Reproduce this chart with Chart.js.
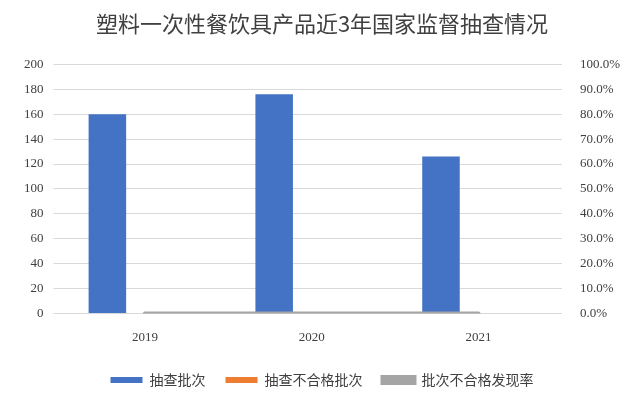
<!DOCTYPE html>
<html>
<head>
<meta charset="utf-8">
<script src="https://cdn.jsdelivr.net/npm/chart.js@4"></script>
<style>
  html, body { margin: 0; padding: 0; background: #fff; }
  #wrap { width: 640px; height: 401px; }
</style>
</head>
<body>
<div id="wrap"><canvas id="c"></canvas></div>
<script>
// ----- Data -----
const years = ['2019', '2020', '2021'];
const sampledBatches = [160, 176, 126];
const failedBatches = [0, 0, 0];
const failRate = [0, 0, 0];

const FONT = '"Noto Sans CJK SC", "DejaVu Sans", sans-serif';
const TICK = { color: '#404040', font: { size: 13, family: '"Liberation Serif", serif' } };

new Chart(document.getElementById('c'), {
  type: 'bar',
  data: {
    labels: years,
    datasets: [
      { label: '抽查批次', data: sampledBatches, backgroundColor: '#4472c4',
        yAxisID: 'y', order: 2, categoryPercentage: 0.9, barPercentage: 0.5 },
      { label: '抽查不合格批次', data: failedBatches, backgroundColor: '#ed7d31',
        yAxisID: 'y', order: 2, categoryPercentage: 0.9, barPercentage: 0.5 },
      { label: '批次不合格发现率', data: failRate, type: 'line', borderColor: '#a5a5a5',
        backgroundColor: '#a5a5a5', borderWidth: 4, pointRadius: 0,
        yAxisID: 'y1', order: 1, borderCapStyle: 'round' },
    ],
  },
  options: {
    responsive: true,
    maintainAspectRatio: false,
    animation: false,
    layout: { padding: { left: 14, right: 10, top: 6, bottom: 4 } },
    plugins: {
      title: {
        display: true, text: '塑料一次性餐饮具产品近3年国家监督抽查情况',
        color: '#404040', font: { size: 22, family: FONT, weight: 'normal' },
        padding: { top: 4, bottom: 28 },
      },
      legend: {
        position: 'bottom',
        labels: {
          color: '#404040', font: { size: 14, family: FONT }, padding: 20,
          boxWidth: 32, boxHeight: 6,
          sort: (a, b) => a.datasetIndex - b.datasetIndex,
        },
      },
      tooltip: { enabled: false },
    },
    scales: {
      x: {
        ticks: { ...TICK, padding: 8 },
        grid: { display: false },
        border: { color: '#d9d9d9' },
      },
      y: {
        min: 0, max: 200,
        ticks: { ...TICK, stepSize: 20, padding: 10 },
        grid: { color: '#d9d9d9' },
        border: { display: false },
      },
      y1: {
        position: 'right', min: 0, max: 1,
        ticks: { ...TICK, stepSize: 0.1, padding: 10, callback: v => (v * 100).toFixed(1) + '%' },
        grid: { display: false },
        border: { display: false },
      },
    },
  },
});
</script>
</body>
</html>
